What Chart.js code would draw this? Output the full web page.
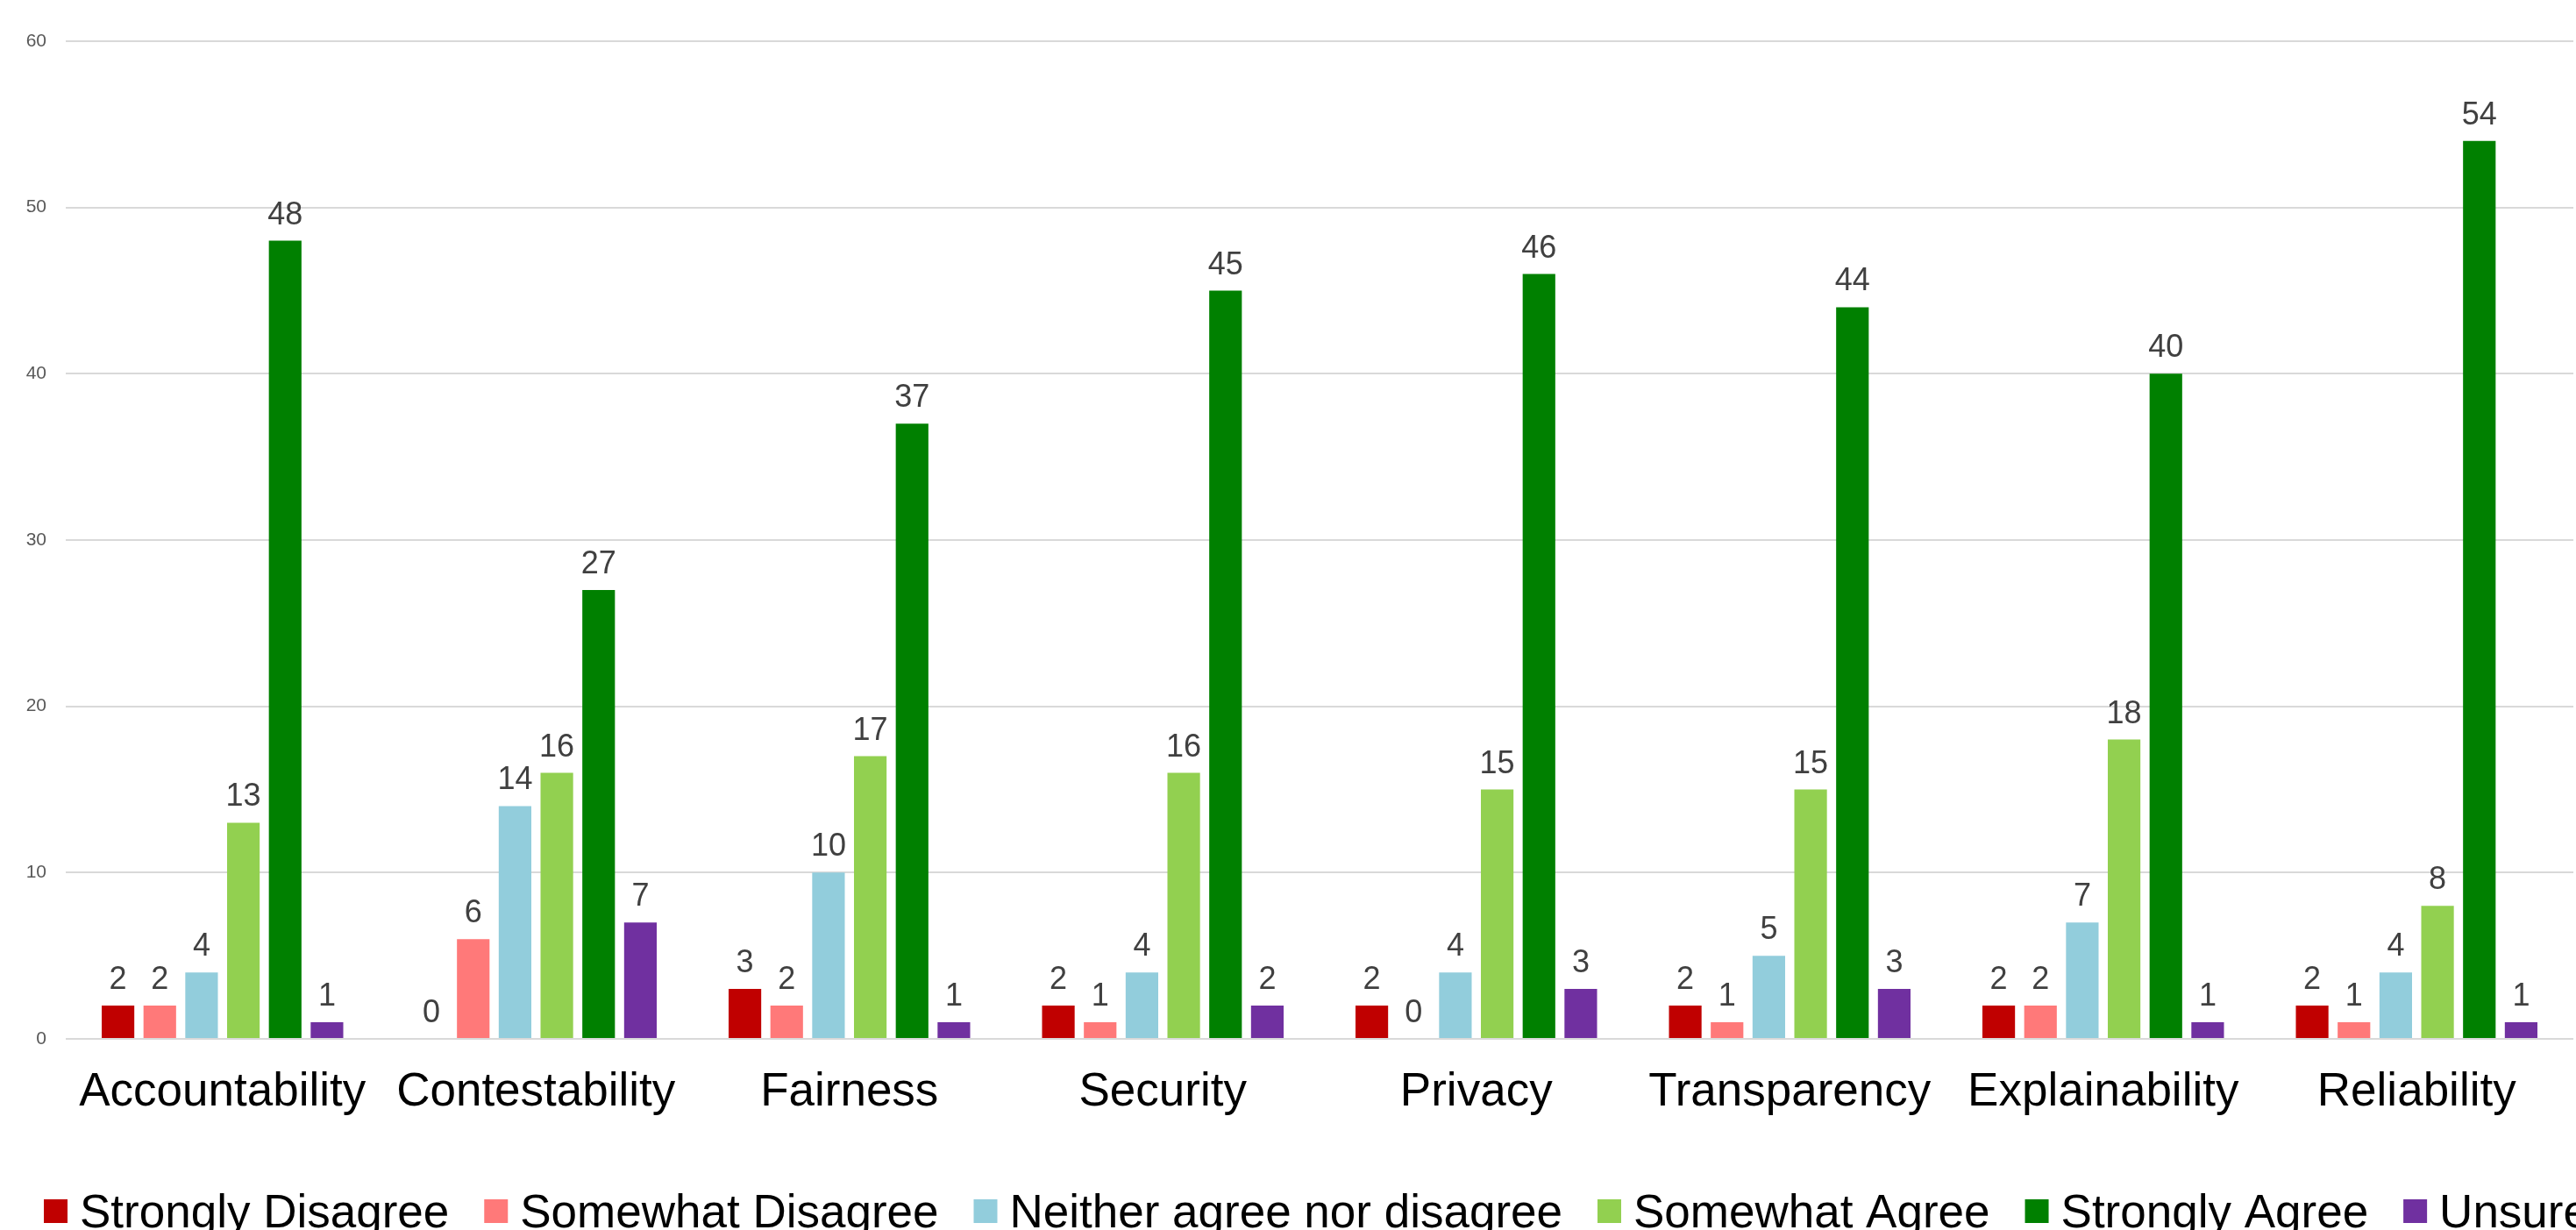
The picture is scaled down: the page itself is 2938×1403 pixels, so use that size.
<!DOCTYPE html>
<html>
<head>
<meta charset="utf-8">
<script src="https://cdn.jsdelivr.net/npm/chart.js@4/dist/chart.umd.min.js"></script>
<style>
  html, body { margin: 0; padding: 0; background: #fff; overflow: hidden; }
  #wrap { width: 2938px; height: 1403px; }
</style>
</head>
<body>
<div id="wrap"><canvas id="principlesChart" width="2938" height="1403"></canvas></div>
<script>
// === Survey data ===
const categories = ['Accountability', 'Contestability', 'Fairness', 'Security', 'Privacy', 'Transparency', 'Explainability', 'Reliability'];
const seriesNames = ['Strongly Disagree', 'Somewhat Disagree', 'Neither agree nor disagree', 'Somewhat Agree', 'Strongly Agree', 'Unsure'];
const stronglyDisagree = [2, 0, 3, 2, 2, 2, 2, 2];
const somewhatDisagree = [2, 6, 2, 1, 0, 1, 2, 1];
const neither          = [4, 14, 10, 4, 4, 5, 7, 4];
const somewhatAgree    = [13, 16, 17, 16, 15, 15, 18, 8];
const stronglyAgree    = [48, 27, 37, 45, 46, 44, 40, 54];
const unsure           = [1, 7, 1, 2, 3, 3, 1, 1];
const yTicks = [0, 10, 20, 30, 40, 50, 60];

const seriesValues = [stronglyDisagree, somewhatDisagree, neither, somewhatAgree, stronglyAgree, unsure];
const seriesColors = ['#C00000', '#FF7979', '#92CDDC', '#92D050', '#008000', '#7030A0'];

const FONT = '"Liberation Sans", Arial, sans-serif';

// Value labels above each bar
const valueLabels = {
    id: 'valueLabels',
    afterDatasetsDraw(chart) {
        const ctx = chart.ctx;
        ctx.save();
        ctx.font = `36px ${FONT}`;
        ctx.fillStyle = '#404040';
        ctx.textAlign = 'center';
        ctx.textBaseline = 'alphabetic';
        chart.data.datasets.forEach((ds, i) => {
            chart.getDatasetMeta(i).data.forEach((bar, j) => {
                ctx.fillText(String(ds.data[j]), bar.x, bar.y - 19);
            });
        });
        ctx.restore();
    }
};

// Single-row legend along the bottom (runs off the right edge like the original)
const bottomLegend = {
    id: 'bottomLegend',
    afterDraw(chart) {
        const ctx = chart.ctx;
        ctx.save();
        ctx.font = `53px ${FONT}`;
        ctx.textBaseline = 'alphabetic';
        ctx.textAlign = 'left';
        const baseline = 1400;
        let x = 50;
        chart.data.datasets.forEach(ds => {
            ctx.fillStyle = ds.backgroundColor;
            ctx.fillRect(x, 1368, 27, 27);
            x += 27 + 14;
            ctx.fillStyle = '#000000';
            ctx.fillText(ds.label, x, baseline);
            x += ctx.measureText(ds.label).width + 40;
        });
        ctx.restore();
    }
};

const ctx = document.getElementById('principlesChart').getContext('2d');
new Chart(ctx, {
    type: 'bar',
    data: {
        labels: categories,
        datasets: seriesNames.map((name, i) => ({
            label: name,
            data: seriesValues[i],
            backgroundColor: seriesColors[i],
            borderWidth: 0,
            barPercentage: 0.78,
            categoryPercentage: 0.8
        }))
    },
    options: {
        responsive: false,
        animation: false,
        layout: { padding: { top: 47, right: 3, left: 0, bottom: 0 } },
        plugins: {
            legend: { display: false },
            title: { display: false },
            tooltip: { enabled: false }
        },
        scales: {
            x: {
                grid: { display: false, drawTicks: false },
                border: { display: false },
                ticks: {
                    color: '#000000',
                    font: { family: FONT, size: 53 },
                    padding: 30,
                    maxRotation: 0,
                    autoSkip: false
                },
                afterFit(scale) { scale.height = 218; }
            },
            y: {
                min: 0,
                max: 60,
                afterBuildTicks(scale) { scale.ticks = yTicks.map(v => ({ value: v })); },
                grid: { color: '#D9D9D9', lineWidth: 2, drawTicks: false },
                border: { display: false },
                ticks: {
                    color: '#595959',
                    font: { family: FONT, size: 21 },
                    padding: 22
                },
                afterFit(scale) { scale.width = 75; }
            }
        }
    },
    plugins: [valueLabels, bottomLegend]
});
</script>
</body>
</html>
